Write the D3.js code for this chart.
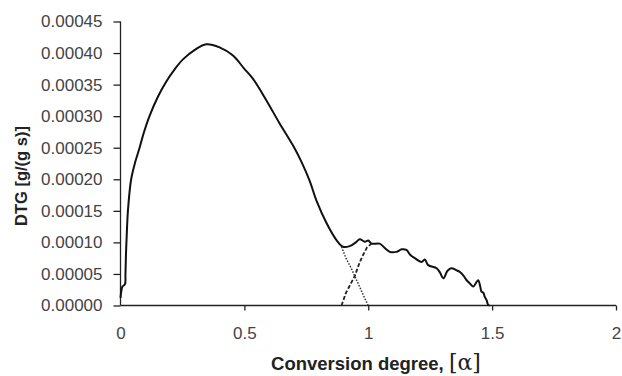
<!DOCTYPE html>
<html>
<head>
<meta charset="utf-8">
<script src="https://cdn.jsdelivr.net/npm/d3@7"></script>
<style>
body{margin:0;background:#fff}
</style>
</head>
<body>
<div id="chart"></div>
<script>
// x values (conversion degree) and DTG values
var mainX = [0,0.003,0.008,0.018,0.02,0.022,0.025,0.03,0.043,0.06,0.077,0.095,0.117,0.15,0.185,0.22,0.252,0.3,0.346,0.40,0.454,0.50,0.535,0.589,0.64,0.697,0.73,0.764,0.791,0.831,0.871,0.898,0.925,0.95,0.966,0.986,1.0,1.013,1.046,1.07,1.087,1.114,1.135,1.154,1.17,1.188,1.215,1.228,1.242,1.276,1.29,1.303,1.32,1.336,1.355,1.370,1.385,1.397,1.41,1.424,1.435,1.444,1.452,1.457,1.465,1.47,1.478,1.484,1.49]
var mainY = [0.000012,0.000022,0.00003,0.000034,0.00005,0.00008,0.00011,0.00015,0.0002,0.000228,0.00025,0.000275,0.0003,0.00033,0.000355,0.000375,0.00039,0.000405,0.000414,0.000409,0.000396,0.000375,0.000359,0.000325,0.00029,0.000253,0.000228,0.000197,0.000166,0.000131,0.000104,0.000093,0.000094,0.0001,0.000105,0.000101,0.000103,0.000098,0.000098,0.00009,0.000085,0.000085,0.000089,0.000088,0.00008,0.000075,0.000069,0.000073,0.000064,0.000059,0.000052,0.000043,0.000055,0.000059,0.000056,0.000053,0.000047,0.00004,0.000035,0.00003,0.000036,0.00004,0.00003,0.000022,0.00002,0.000014,0.000008,0.000001,0]
var dotX = [0.892,0.91,0.93,0.946,0.965,0.985,1.0]
var dotY = [0.000093,0.000075,0.00006,0.000046,0.00003,0.000012,0]
var dashX = [0.892,0.91,0.93,0.946,0.965,0.979,0.995,1.013]
var dashY = [0,0.00002,0.000035,0.000047,0.000068,0.00008,0.000092,0.000098]
var xTicks = [0,0.5,1,1.5,2]
var yTicks = [0,0.00005,0.0001,0.00015,0.0002,0.00025,0.0003,0.00035,0.0004,0.00045]

var W = 622, H = 376
var svg = d3.select("#chart").append("svg").attr("width",W).attr("height",H)
	.style("font-family","Arial, 'Liberation Sans', sans-serif")

var x = d3.scaleLinear().domain([0,2]).range([120.5,616])
var y = d3.scaleLinear().domain([0,0.00045]).range([305.5,21.5])

var xAxis = svg.append("g").attr("transform","translate(0,"+y(0)+")")
	.call(d3.axisBottom(x).tickValues(xTicks).tickSize(5).tickPadding(16).tickFormat(d3.format("")))
var yAxis = svg.append("g").attr("transform","translate("+x(0)+",0)")
	.call(d3.axisLeft(y).tickValues(yTicks).tickSize(5).tickPadding(13).tickFormat(d3.format(".5f")))

svg.selectAll(".domain").attr("stroke","#222").attr("stroke-width",1.3)
svg.selectAll(".tick line").attr("stroke","#222").attr("stroke-width",1.3)
svg.selectAll(".tick text").attr("fill","#444").style("font-size","17px")
xAxis.select(".domain").attr("d","M"+x(0)+",0H"+x(2))
yAxis.select(".domain").attr("d","M0,"+y(0.00045)+"V"+y(0))
yAxis.selectAll(".tick line").attr("x2",-7)
xAxis.selectAll(".tick").filter(function(d){return d==0}).select("line").remove()

function pts(xs,ys){return xs.map(function(v,i){return [v,ys[i]]})}
var line = d3.line().x(function(d){return x(d[0])}).y(function(d){return y(d[1])}).curve(d3.curveCatmullRom.alpha(0.5))
var lineL = d3.line().x(function(d){return x(d[0])}).y(function(d){return y(d[1])})

svg.append("path").attr("d",line(pts(mainX,mainY))).attr("fill","none").attr("stroke","#111").attr("stroke-width",2).attr("stroke-linejoin","round")
svg.append("path").attr("d",lineL(pts(dotX,dotY))).attr("fill","none").attr("stroke","#333").attr("stroke-width",1.5).attr("stroke-dasharray","1.5,1.5")
svg.append("path").attr("d",lineL(pts(dashX,dashY))).attr("fill","none").attr("stroke","#222").attr("stroke-width",1.8).attr("stroke-dasharray","4,2")

svg.append("text").attr("transform","translate(27,176) rotate(-90)").attr("text-anchor","middle")
	.style("font-size","16.5px").style("font-weight","bold").attr("fill","#222").text("DTG [g/(g s)]")

var xl = svg.append("text").attr("x",376).attr("y",370).attr("text-anchor","middle")
	.style("font-size","18.5px").style("font-weight","bold").attr("fill","#222")
xl.append("tspan").text("Conversion degree, ")
xl.append("tspan").style("font-family","'DejaVu Serif', serif").style("font-weight","normal").style("font-size","22px").text("[α]")
</script>
</body>
</html>
